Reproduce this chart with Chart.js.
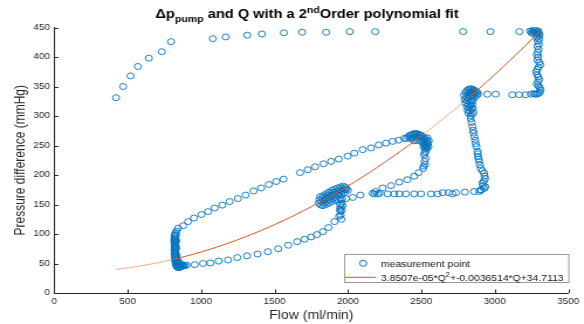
<!DOCTYPE html>
<html>
<head>
<meta charset="utf-8">
<script src="https://cdn.jsdelivr.net/npm/chart.js@4.4.1/dist/chart.umd.min.js"></script>
<style>
  html, body { margin: 0; padding: 0; background: #fff; overflow: hidden; }
  /* the reference picture is stretched sideways, so the canvas is too */
  #chart { display: block; transform: scaleX(1.1703); transform-origin: 0 0; }
</style>
</head>
<body>
<canvas id="chart" width="499" height="324"></canvas>
<script>
let topArc = [[420,331],[469,350],[519,368],[569,384],[644,398],[732,409],[795,426]];
let topRow = [[1079,431],[1167,434],[1314,437],[1414,439],[1563,441],[1688,442],[1851,442],
    [2012,443],[2186,443],[2784,443],[2970,443],[3167,443]];
let rightColumn = [[3240,444],[3255,445],[3265,446],[3275,446],[3285,445],[3295,444],[3300,441],
    [3290,440],[3280,441],[3270,442],[3260,440],[3250,441],[3305,437],[3295,435],[3285,433],
    [3302,430],[3292,427],[3300,422],[3290,418],[3298,413],[3293,408],[3286,404],[3296,400],
    [3290,395],[3302,391],[3310,387],[3298,383],[3290,379],[3282,375],[3288,370],[3296,366],
    [3302,362],[3293,358],[3286,354],[3296,351],[3306,348],[3312,344],[3305,340],[3296,338],
    [3285,337],[3275,337],[3265,338]];
let upperStep = [[2949,337],[3006,337],[3119,336],[3165,336],[3210,336],[3245,337]];
let stepD = [[2790,335],[2800,340],[2810,343],[2820,345],[2830,346],[2840,346],[2850,345],
    [2860,344],[2870,342],[2880,340],[2885,337],[2795,328],[2805,332],[2815,336],[2825,339],
    [2835,341],[2845,341],[2855,339],[2865,337],[2875,335],[2800,322],[2810,326],[2820,330],
    [2830,333],[2840,335],[2850,334],[2860,331],[2810,316],[2820,320],[2830,325],[2840,327],
    [2850,325],[2815,310],[2825,314],[2835,318],[2845,319],[2820,305],[2830,308],[2840,311],
    [2850,313],[2835,300],[2845,303],[2855,306]];
let dropD = [[2836,295],[2842,289],[2848,282],[2852,276],[2855,271],[2860,265],[2866,259],
    [2870,253],[2875,248],[2882,240],[2884,236],[2886,231],[2890,227],[2893,223],[2898,217],
    [2904,211],[2915,207],[2927,203],[2930,198],[2934,194],[2925,190],[2915,186],[2920,182],
    [2935,180],[2927,177],[2905,175]];
let middleRow = [[2180,168],[2202,168],[2214,169],[2270,168],[2315,168],[2349,168],[2395,168],
    [2451,168],[2497,168],[2565,168],[2610,168],[2645,170],[2686,170],[2712,168],[2735,170],
    [2796,171],[2859,172],[2894,172],[2905,174]];
let riseBC = [[1987,160],[2032,162],[2084,166],[2168,169],[2186,172],[2236,178],[2293,182],
    [2349,188],[2404,192],[2451,198],[2481,204],[2512,211],[2515,215],[2525,218],[2521,223],
    [2528,228],[2519,234],[2522,238],[2530,240],[2526,245],[2515,248],[2532,250],[2524,252]];
let stepC = [[2400,262],[2410,265],[2420,267],[2430,268],[2440,269],[2450,270],[2460,270],
    [2470,270],[2480,269],[2490,268],[2500,267],[2510,265],[2520,263],[2530,260],[2540,257],
    [2545,253],[2425,262],[2440,263],[2455,264],[2470,265],[2485,264],[2500,262],[2515,259],
    [2530,255],[2535,250],[2490,258],[2505,255],[2520,252],[2470,259],[2450,258],[2540,263],
    [2550,258],[2548,248],[2538,245],[2528,247]];
let loopUpper = [[843,110],[877,114],[911,121],[951,127],[1002,133],[1047,138],[1092,144],
    [1144,149],[1194,155],[1250,160],[1303,166],[1357,173],[1409,178],[1461,184],[1511,189],
    [1561,193],[1674,204],[1726,209],[1776,214],[1833,219],[1885,223],[1937,227],[1998,232],
    [2043,237],[2100,243],[2157,246],[2209,251],[2259,254],[2304,257],[2345,259],[2383,262]];
let loopLower = [[900,47],[956,48],[1013,50],[1063,51],[1119,54],[1183,56],[1246,60],[1312,63],
    [1384,66],[1454,70],[1525,75],[1593,81],[1654,87],[1704,91],[1749,95],[1788,99],[1829,104],
    [1867,111],[1908,121],[1940,130],[1948,138],[1952,145],[1955,152],[1950,158]];
let stepA = [[832,105],[826,102],[822,99],[820,96],[819,93],[818,90],[818,87],[819,84],[820,81],
    [821,78],[820,75],[819,72],[820,69],[822,66],[821,63],[822,60],[823,57],[824,54],[826,51],
    [828,48],[832,46],[837,44],[843,43],[850,43],[857,44],[864,45],[872,46],[880,46],[888,47],
    [828,98],[826,92],[825,86],[826,80],[826,74],[825,68],[827,62],[829,56],[832,52],[838,49],
    [845,48],[852,48],[860,48],[870,48],[830,88],[830,76],[832,64],[835,58],[840,54],[848,52]];
let stepB = [[1800,152],[1805,158],[1810,163],[1815,149],[1820,155],[1825,160],[1830,165],
    [1835,152],[1840,158],[1845,163],[1850,168],[1855,155],[1860,161],[1865,166],[1870,171],
    [1875,158],[1880,164],[1885,169],[1890,174],[1895,160],[1900,166],[1905,171],[1910,176],
    [1915,162],[1920,168],[1925,173],[1930,178],[1935,165],[1940,170],[1945,175],[1950,180],
    [1955,167],[1960,172],[1965,177],[1970,181],[1975,170],[1980,175],[1985,179],[1990,176],
    [2000,174],[1830,148],[1850,150],[1870,152],[1890,155],[1910,157],[1930,158],[1945,150],
    [1960,160],[1962,148],[1958,140],[1950,132],[1955,125],[1945,142]];

// the 2nd order fit curve, read at a few flows
let fitFlow = [420,600,800,1000,1200,1400,1600,1800,2000,2200,2400,2520,2780,3000,3200,3310];
let fitPressure = [40.0,46.4,56.4,69.6,85.8,105.1,127.4,152.9,181.4,213.0,247.8,270.0,322.2,370.3,417.3,444.5];

let xTickValues = [0,500,1000,1500,2000,2500,3000,3500];
let yTickValues = [0,50,100,150,200,250,300,350,400,450];

let FONT = '"Liberation Sans", Arial, Helvetica, sans-serif';
let AXIS = '#262626';

let measurement = [].concat(topArc, topRow, rightColumn, upperStep, stepD, dropD, middleRow,
    riseBC, stepC, loopUpper, loopLower, stepA, stepB).map(p => ({x: p[0], y: p[1]}));
let fitLine = fitFlow.map((q, i) => ({x: q, y: fitPressure[i]}));

function isPale(q0) {
    return q0 < 800 || (q0 >= 2520 && q0 < 2780);
}

function drawParts(ctx, parts, x, base) {
    parts.forEach(p => {
        ctx.font = p.font;
        ctx.fillText(p.text, x, base + (p.dy || 0));
        x += ctx.measureText(p.text).width;
    });
}

function partsWidth(ctx, parts) {
    let w = 0;
    parts.forEach(p => { ctx.font = p.font; w += ctx.measureText(p.text).width; });
    return w;
}

let extras = {
    id: 'extras',
    afterDraw(chart) {
        let ctx = chart.ctx;
        let x = chart.scales.x, y = chart.scales.y;
        ctx.save();

        // inward tick marks
        ctx.strokeStyle = AXIS;
        ctx.lineWidth = 1;
        x.ticks.forEach(t => {
            let px = Math.round(x.getPixelForValue(t.value)) + 0.5;
            ctx.beginPath(); ctx.moveTo(px, x.top); ctx.lineTo(px, x.top - 3.5); ctx.stroke();
        });
        y.ticks.forEach(t => {
            let py = Math.round(y.getPixelForValue(t.value)) + 0.5;
            ctx.beginPath(); ctx.moveTo(y.right, py); ctx.lineTo(y.right + 3.5, py); ctx.stroke();
        });

        // title with sub and superscript
        let big = 'bold 12.5px ' + FONT, small = 'bold 9px ' + FONT;
        let title = [
            {text: 'Δp', font: big},
            {text: 'pump', font: small, dy: 4},
            {text: ' and Q with a 2', font: big},
            {text: 'nd', font: small, dy: -5},
            {text: 'Order polynomial fit', font: big}
        ];
        ctx.fillStyle = '#000';
        ctx.textBaseline = 'alphabetic';
        ctx.textAlign = 'left';
        drawParts(ctx, title, 262.4 - partsWidth(ctx, title) / 2, 18);

        // legend box
        let lx = 294, ly = 254, lw = 192.6, lh = 29;
        ctx.fillStyle = '#fff';
        ctx.fillRect(lx, ly, lw, lh);
        ctx.strokeStyle = '#9a9a9a';
        ctx.strokeRect(lx + 0.5, ly + 0.5, lw - 1, lh - 1);

        ctx.strokeStyle = '#0072BD';
        ctx.lineWidth = 1;
        ctx.beginPath(); ctx.arc(310.3, 263.3, 3, 0, Math.PI * 2); ctx.stroke();

        ctx.strokeStyle = '#D95319';
        ctx.beginPath(); ctx.moveTo(295, 277.3); ctx.lineTo(321, 277.3); ctx.stroke();

        let lf = '8.9px ' + FONT, ls = '6.5px ' + FONT;
        ctx.fillStyle = '#111';
        drawParts(ctx, [{text: 'measurement point', font: lf}], 325.6, 266.5);
        drawParts(ctx, [
            {text: '3.8507e-05*Q', font: lf},
            {text: '2', font: ls, dy: -3.5},
            {text: '+-0.0036514*Q+34.7113', font: lf}
        ], 325.6, 280.5);

        ctx.restore();
    }
};

new Chart(document.getElementById('chart').getContext('2d'), {
    type: 'scatter',
    data: {
        datasets: [{
            label: 'measurement point',
            data: measurement,
            order: 2,
            pointStyle: 'circle',
            pointRadius: 3,
            borderWidth: 0.9,
            borderColor: '#0072BD',
            backgroundColor: 'rgba(0,0,0,0)'
        }, {
            type: 'line',
            label: '3.8507e-05*Q^2+-0.0036514*Q+34.7113',
            data: fitLine,
            order: 1,
            pointRadius: 0,
            borderWidth: 1,
            borderColor: '#D95319',
            tension: 0.3,
            fill: false,
            segment: {
                borderColor: c => isPale(c.p0.parsed.x) ? '#F2A98A' : '#D95319'
            }
        }]
    },
    options: {
        responsive: false,
        animation: false,
        devicePixelRatio: 1,
        layout: { padding: { top: 27.5, right: 12.4, left: 0, bottom: 0 } },
        plugins: {
            legend: { display: false },
            tooltip: { enabled: false },
            title: { display: false }
        },
        scales: {
            x: {
                type: 'linear',
                min: 0,
                max: 3500,
                afterBuildTicks: s => { s.ticks = xTickValues.map(v => ({value: v})); },
                afterFit: s => { s.height = 31; },
                grid: { display: false, drawTicks: false },
                border: { display: true, color: AXIS, width: 1 },
                ticks: {
                    font: { family: FONT, size: 8.5 }, color: AXIS, padding: 4, maxRotation: 0,
                    callback: v => String(v)
                },
                title: {
                    display: true, text: 'Flow (ml/min)', color: AXIS,
                    font: { family: FONT, size: 12 }, padding: { top: 0, bottom: 1 }
                }
            },
            y: {
                type: 'linear',
                min: 0,
                max: 450,
                afterBuildTicks: s => { s.ticks = yTickValues.map(v => ({value: v})); },
                afterFit: s => { s.width = 46.4; },
                grid: { display: false, drawTicks: false },
                border: { display: true, color: AXIS, width: 1 },
                ticks: {
                    font: { family: FONT, size: 8.5 }, color: AXIS, padding: 3.7,
                    callback: v => String(v)
                },
                title: {
                    display: true, text: 'Pressure difference (mmHg)', color: AXIS,
                    font: { family: FONT, size: 12 }, padding: { top: 10.5, bottom: 0 }
                }
            }
        }
    },
    plugins: [extras]
});
</script>
</body>
</html>
